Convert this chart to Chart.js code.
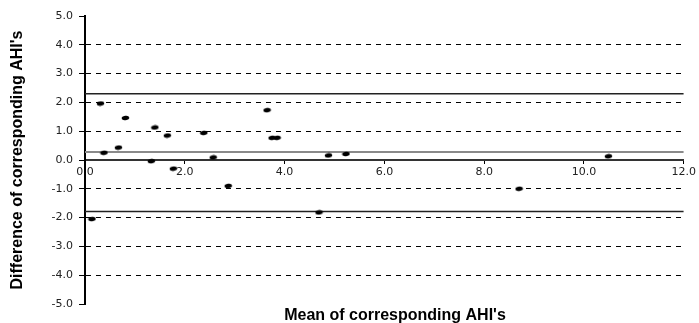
<!DOCTYPE html>
<html>
<head>
<meta charset="utf-8">
<script src="https://cdn.jsdelivr.net/npm/chart.js@4"></script>
<style>
  html, body { margin: 0; padding: 0; background: #fff; }
  #wrap { width: 699px; height: 323px; }
</style>
</head>
<body>
<div id="wrap"><canvas id="myChart" width="699" height="323"></canvas></div>
<script>
// mean of the two AHI's (x) and their difference (y)
var meanAHI = [0.14, 0.31, 0.38, 0.67, 0.81, 1.33, 1.40, 1.65, 1.77, 2.38, 2.57, 2.87, 3.65, 3.75, 3.85, 4.69, 4.88, 5.23, 8.70, 10.49];
var diffAHI = [-2.05, 1.96, 0.25, 0.43, 1.46, -0.04, 1.13, 0.85, -0.30, 0.94, 0.09, -0.90, 1.73, 0.77, 0.77, -1.82, 0.16, 0.21, -1.00, 0.13];

// limits of agreement and mean difference
var upperLimit = 2.30;
var meanDiff = 0.28;
var lowerLimit = -1.79;

var xTicks = [0, 2, 4, 6, 8, 10, 12];
var yTicks = [-5, -4, -3, -2, -1, 0, 1, 2, 3, 4, 5];

var xTitulo = "Mean of corresponding AHI's";
var yTitulo = "Difference of corresponding AHI's";

var pontos = [];
for (var i = 0; i < meanAHI.length; i++) {
    pontos.push({ x: meanAHI[i], y: diffAHI[i] });
}

function linha(v) {
    return [{ x: xTicks[0], y: v }, { x: xTicks[xTicks.length - 1], y: v }];
}

// marcador: pequena elipse preta
var marcador = document.createElement('canvas');
marcador.width = 9;
marcador.height = 6;
var mctx = marcador.getContext('2d');
mctx.fillStyle = '#000';
mctx.beginPath();
mctx.ellipse(4.5, 3, 3.8, 2.2, -0.15, 0, Math.PI * 2);
mctx.fill();

// titulo do eixo x, desenhado por baixo do grafico
var tituloX = {
    id: 'tituloX',
    afterDraw: function (chart) {
        var c = chart.ctx;
        c.save();
        c.fillStyle = '#000';
        c.font = 'bold 16px "Liberation Sans"';
        c.textAlign = 'center';
        c.textBaseline = 'alphabetic';
        c.fillText(xTitulo, 395, 320);
        c.restore();
    }
};

var ctx = document.getElementById('myChart').getContext('2d');
var myChart = new Chart(ctx, {
    type: 'scatter',
    data: {
        datasets: [{
            label: 'pontos',
            data: pontos,
            pointStyle: marcador,
            pointRadius: 4,
            order: 0
        }, {
            type: 'line',
            label: 'upper',
            data: linha(upperLimit),
            borderColor: '#222',
            borderWidth: 1.5,
            pointRadius: 0,
            order: 1
        }, {
            type: 'line',
            label: 'mean',
            data: linha(meanDiff),
            borderColor: '#8a8a8a',
            borderWidth: 2,
            pointRadius: 0,
            order: 1
        }, {
            type: 'line',
            label: 'lower',
            data: linha(lowerLimit),
            borderColor: '#222',
            borderWidth: 1.5,
            pointRadius: 0,
            order: 1
        }]
    },
    options: {
        responsive: false,
        animation: false,
        events: [],
        layout: { padding: { top: 16, right: 14, left: 0, bottom: 19 } },
        plugins: {
            legend: { display: false },
            tooltip: { enabled: false }
        },
        scales: {
            x: {
                type: 'linear',
                position: { y: 0 },
                min: 0,
                max: 12,
                afterBuildTicks: function (s) { s.ticks = xTicks.map(function (v) { return { value: v }; }); },
                ticks: {
                    color: '#222',
                    font: { family: 'DejaVu Sans', size: 11 },
                    padding: 3,
                    maxRotation: 0,
                    callback: function (v) { return v.toFixed(1); }
                },
                grid: { drawOnChartArea: false, drawTicks: true, tickLength: 3, tickColor: '#000' },
                border: { display: true, color: '#333', width: 2 }
            },
            y: {
                type: 'linear',
                min: -5,
                max: 5,
                afterBuildTicks: function (s) { s.ticks = yTicks.map(function (v) { return { value: v }; }); },
                afterFit: function (s) { s.width = 85; },
                title: {
                    display: true,
                    text: yTitulo,
                    color: '#000',
                    font: { family: 'Liberation Sans', size: 16, weight: 'bold' },
                    padding: { top: 8, bottom: 0 }
                },
                ticks: {
                    color: '#222',
                    font: { family: 'DejaVu Sans', size: 11 },
                    padding: 6,
                    callback: function (v) { return v.toFixed(1); }
                },
                grid: {
                    color: function (c) {
                        var v = c.tick ? c.tick.value : null;
                        return (v === 0 || v === 5 || v === -5) ? 'rgba(0,0,0,0)' : '#000';
                    },
                    lineWidth: 1,
                    tickColor: '#000',
                    tickLength: 6,
                    tickBorderDash: []
                },
                border: { display: true, color: '#000', width: 2, dash: [5, 5] }
            }
        }
    },
    plugins: [tituloX]
});
</script>
</body>
</html>
